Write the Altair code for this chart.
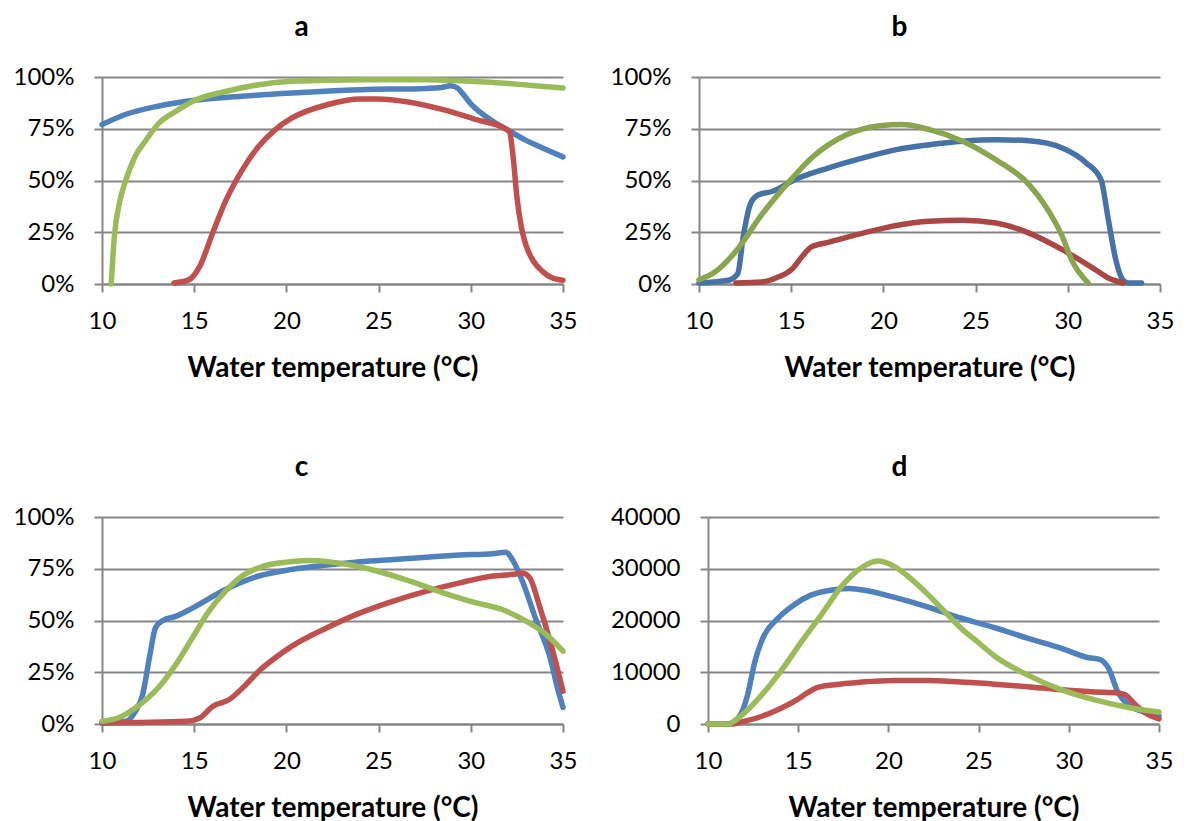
import altair as alt
import pandas as pd

# ---------------- data ----------------
x_ticks = [10, 15, 20, 25, 30, 35]
pct_ticks = [0, 25, 50, 75, 100]
abs_ticks = [0, 10000, 20000, 30000, 40000]
x_title = "Water temperature (°C)"
panel_titles = ["a", "b", "c", "d"]

# panel a
a_blue_t = [10, 11.3, 13.1, 14.9, 17.6, 20.3, 24, 27.6, 28.4, 28.9, 29.3, 29.6, 30.0, 30.5, 31.2, 31.9, 33, 33.9, 35]
a_blue_v = [77, 82, 86, 88.6, 90.7, 92.3, 93.9, 94.5, 94.9, 95.8, 94.5, 91.5, 87, 83, 78.6, 74.9, 69.4, 65.7, 61.4]
a_red_t = [13.9, 14.7, 15.3, 16, 16.7, 17.6, 18.5, 19.4, 20.3, 22.2, 24, 24.9, 26.7, 28.5, 30.3, 31.9, 32.1, 32.3, 32.5, 32.75, 33, 33.4, 33.9, 34.4, 35]
a_red_v = [0.5, 2, 8.5, 24.6, 40, 55, 66.5, 74.6, 80.2, 86.6, 89.4, 89.4, 87.8, 84.2, 79.4, 74.9, 73.5, 61, 42, 27, 18.5, 11, 6, 3, 1.8]
a_green_t = [10.5, 10.67, 10.94, 11.3, 11.8, 12.4, 13.1, 14, 14.9, 16.7, 18.5, 20.3, 24, 27.6, 31.2, 35]
a_green_v = [0, 23, 39, 50.4, 61.7, 69.7, 77.8, 83.4, 88.2, 93, 96.3, 97.9, 98.7, 98.7, 97.4, 94.7]

# panel b
b_blue_t = [10, 11.6, 12.1, 12.4, 12.8, 13.2, 14, 15.2, 17, 18.9, 20.7, 22.5, 24.3, 26.1, 27.9, 29.7, 31, 31.8, 32.2, 32.6, 33, 33.3, 34]
b_blue_v = [0.5, 1.8, 5, 23, 39, 43, 44.8, 50.4, 56, 60.9, 64.9, 67.3, 69, 69.7, 69.2, 65.7, 58.5, 50.4, 31, 11.8, 1.8, 0.5, 0.5]
b_red_t = [12, 13.4, 14.2, 15.1, 15.6, 16.1, 17, 18.9, 20.7, 22.5, 24.3, 26.1, 27.9, 29.7, 31.5, 32.2, 33]
b_red_v = [0.5, 1, 3, 7.7, 13.4, 17.9, 20.1, 24.6, 28.3, 30.3, 30.8, 29.5, 24.6, 16.6, 6.9, 2.9, 0.5]
b_green_t = [10, 10.9, 12, 13.4, 14.9, 16.1, 18, 19.8, 21, 22.5, 24.3, 26.1, 27.9, 28.8, 29.7, 30.2, 31.1]
b_green_v = [2, 6, 15.8, 33.5, 49.6, 60.9, 72.1, 76.5, 77, 74.6, 69, 60, 48, 37.5, 23, 11.8, 0.5]

# panel c
c_blue_t = [10, 11.3, 11.8, 12.2, 12.6, 12.9, 13.3, 14, 14.9, 16.7, 18.5, 20.3, 22.2, 24, 25.8, 27.6, 29.4, 31.2, 31.9, 32.3, 32.8, 33.5, 34.3, 34.7, 35]
c_blue_v = [0.5, 1.3, 6, 14, 33.5, 46.5, 50, 52, 56, 65, 71.5, 74.7, 76.8, 78.4, 79.5, 80.6, 81.6, 82.3, 83, 78.7, 69, 51.3, 32, 17.4, 8]
c_red_t = [10, 14.6, 15.3, 16, 16.9, 17.8, 18.5, 19.4, 20.3, 22.2, 24, 25.8, 27.6, 29.4, 31.2, 32.3, 32.8, 33.2, 33.7, 34.4, 35]
c_red_v = [0.5, 1.3, 2.9, 8.5, 11.8, 19, 25.5, 32, 37.6, 46.5, 53.7, 59.4, 64.2, 68.2, 71.5, 72.3, 73, 70.6, 57.7, 36.8, 15.8]
c_green_t = [10, 10.9, 11.8, 13.1, 14, 14.9, 15.8, 16.7, 17.6, 18.5, 20, 21.2, 23.1, 24.9, 26.7, 28.5, 30.3, 31.7, 33, 34.1, 35]
c_green_v = [1.3, 3, 7.7, 18, 28.7, 41.6, 54.5, 64.2, 71.5, 75.5, 78.2, 79, 77.4, 73.9, 69, 63.4, 58.5, 55.3, 49.7, 43.2, 35.2]

# panel d
d_blue_t = [10, 11.1, 11.8, 12.2, 12.6, 13, 13.9, 14.8, 15.7, 16.7, 17.8, 18.9, 20.3, 22.2, 24, 25.9, 27.7, 29.6, 31.1, 31.7, 32.2, 32.7, 33.3, 34, 35]
d_blue_v = [0, 0, 1800, 5700, 12100, 16300, 20500, 23100, 24900, 25800, 26200, 25700, 24500, 22600, 20500, 18600, 16600, 14600, 12800, 12500, 10800, 6300, 3700, 2500, 1500]
d_red_t = [10, 11.3, 12, 13, 13.9, 14.8, 15.5, 16, 17, 18.5, 20.3, 22.2, 24, 25.9, 27.7, 29.6, 31.4, 32.5, 33.1, 33.7, 34.4, 35]
d_red_v = [0, 0, 500, 1500, 2800, 4400, 6000, 7000, 7600, 8100, 8400, 8400, 8100, 7700, 7200, 6600, 6200, 6100, 5700, 3700, 1800, 1000]
d_green_t = [10, 11.1, 11.8, 13, 14.1, 15.2, 16.3, 17.4, 18.5, 19.4, 20.3, 21.3, 22.2, 23.1, 24, 25, 25.9, 27.7, 29.6, 31.4, 33.3, 35]
d_green_v = [0, 0, 1500, 5700, 10500, 16000, 21200, 26600, 30200, 31500, 30500, 27900, 25000, 21800, 18600, 15700, 13100, 9500, 6600, 4700, 3200, 2300]

colors_std = ["#4F81BD", "#C0504D", "#9BBB59"]
colors_dark = ["#4572A7", "#AA4643", "#89A54E"]

GRAY = "#868686"
FONT = "Lato"


def panel(title, series, colors, y_domain, y_ticks, pct, width, dx):
    x_enc = alt.X(
        "T:Q",
        scale=alt.Scale(domain=[10, 35], nice=False, zero=False),
        axis=alt.Axis(values=x_ticks, title=x_title, grid=False, format="d", labelFlush=False),
    )
    y_axis = alt.Axis(values=y_ticks, title=None, grid=True,
                      labelExpr="datum.value + '%'" if pct else "format(datum.value, 'd')")
    y_enc = alt.Y("V:Q", scale=alt.Scale(domain=y_domain, nice=False, zero=True), axis=y_axis)
    layers = []
    for (ts, vs), col in zip(series, colors):
        df = pd.DataFrame({"T": ts, "V": vs})
        layers.append(
            alt.Chart(df).mark_line(strokeWidth=5.5, interpolate="monotone", color=col,
                                    strokeCap="round", strokeJoin="round")
            .encode(x=x_enc, y=y_enc)
        )
    return alt.layer(*layers).properties(
        width=width, height=207,
        title=alt.TitleParams(title, font=FONT, fontSize=28, fontWeight="bold", color="black",
                              anchor="middle", dx=dx, offset=23),
    )


pa = panel(panel_titles[0], [(a_blue_t, a_blue_v), (a_red_t, a_red_v), (a_green_t, a_green_v)],
           colors_std, [0, 100], pct_ticks, True, 461, -31)
pb = panel(panel_titles[1], [(b_blue_t, b_blue_v), (b_red_t, b_red_v), (b_green_t, b_green_v)],
           colors_dark, [0, 100], pct_ticks, True, 461, -30)
pc = panel(panel_titles[2], [(c_blue_t, c_blue_v), (c_red_t, c_red_v), (c_green_t, c_green_v)],
           colors_std, [0, 100], pct_ticks, True, 461, -31)
pd_ = panel(panel_titles[3], [(d_blue_t, d_blue_v), (d_red_t, d_red_v), (d_green_t, d_green_v)],
            colors_std, [0, 40000], abs_ticks, False, 451, -34)

row1 = alt.hconcat(pa, pb, spacing=33)
row2 = alt.hconcat(pc, pd_, spacing=33)

chart = alt.vconcat(row1, row2, spacing=72).properties(
    padding={"left": 5, "top": 6, "right": 0, "bottom": 0}
).configure_view(stroke=None).configure_axis(
    domainColor=GRAY, domainWidth=2, gridColor=GRAY, gridWidth=2,
    tickColor=GRAY, tickWidth=2, tickSize=8,
    labelFont=FONT, labelFontSize=24, labelColor="black",
    titleFont=FONT, titleFontSize=28, titleFontWeight="bold", titleColor="black",
).configure_axisY(labelPadding=20).configure_axisX(labelPadding=17, titlePadding=21)

chart.save("out.html", embed_options={"renderer": "svg", "actions": False})
